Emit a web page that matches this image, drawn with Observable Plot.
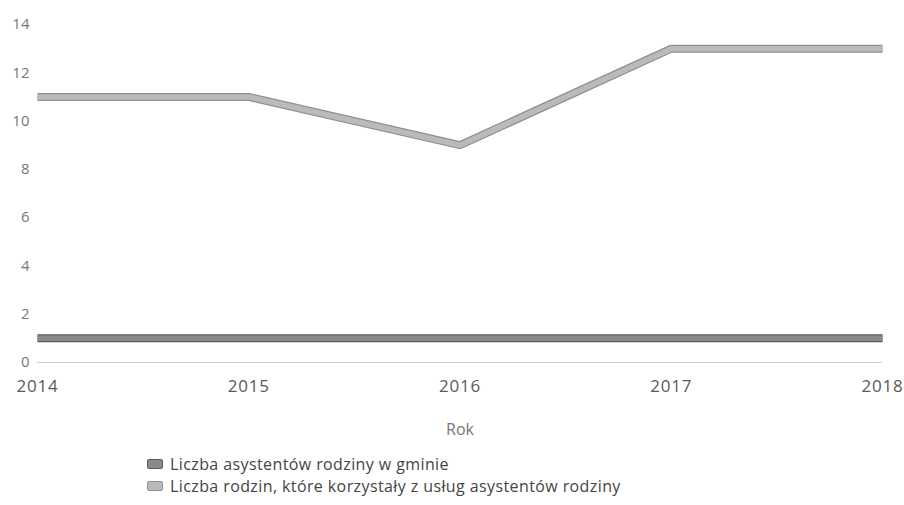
<!DOCTYPE html>
<html>
<head>
<meta charset="utf-8">
<script src="https://cdn.jsdelivr.net/npm/d3@7"></script>
<script src="https://cdn.jsdelivr.net/npm/@observablehq/plot@0.6"></script>
<style>
  body { margin: 0; background: #fff; font-family: "Open Sans", sans-serif; }
  #legend { margin-left: 147px; margin-top: 8px; font-family: "Open Sans", sans-serif; font-size: 16px; letter-spacing: 0.4px; color: #444; line-height: 22px; }
  .item { display: flex; align-items: center; }
  .sw { width: 14px; height: 8px; border-radius: 2px; margin-right: 7px; }
</style>
</head>
<body>
<div id="chart"></div>
<div id="legend"></div>
<script>
const years = [2014, 2015, 2016, 2017, 2018];
const seriesNames = [
  "Liczba asystentów rodziny w gminie",
  "Liczba rodzin, które korzystały z usług asystentów rodziny"
];
const asystenci = [1, 1, 1, 1, 1];
const rodziny = [11, 11, 9, 13, 13];
const yTicks = [0, 2, 4, 6, 8, 10, 12, 14];
const fills = ["#8a8a8a", "#bababa"];
const outlines = ["#5a5a5a", "#909090"];

const data = [];
years.forEach((y, i) => {
  data.push({year: y, value: asystenci[i], series: seriesNames[0]});
  data.push({year: y, value: rodziny[i], series: seriesNames[1]});
});

const chart = Plot.plot({
  width: 904,
  height: 445,
  marginLeft: 37,
  marginRight: 22,
  marginTop: 24,
  marginBottom: 83,
  style: {fontFamily: "Open Sans, sans-serif", background: "#fff"},
  x: {domain: [2014, 2018]},
  y: {domain: [0, 14]},
  color: {domain: seriesNames, range: fills},
  marks: [
    Plot.ruleY([0], {stroke: "#cfcfcf", strokeWidth: 1}),
    Plot.axisY({ticks: yTicks, tickSize: 0, tickPadding: 8, fontSize: 15, color: "#777", label: null}),
    Plot.axisX({ticks: years, tickFormat: d => String(d), tickSize: 0, tickPadding: 17, fontSize: 17, color: "#5a5a5a",
      label: "Rok", labelAnchor: "center", labelArrow: "none", labelOffset: 72}),
    Plot.line(data, {x: "year", y: "value", z: "series", stroke: d => outlines[seriesNames.indexOf(d.series)], strokeWidth: 8, strokeLinecap: "butt", strokeLinejoin: "round"}),
    Plot.line(data, {x: "year", y: "value", z: "series", stroke: "series", strokeWidth: 5.5, strokeLinecap: "butt", strokeLinejoin: "round"})
  ]
});
document.getElementById("chart").appendChild(chart);
chart.querySelectorAll("text").forEach(t => {
  if (t.textContent === "Rok") { t.setAttribute("font-size", "16"); t.setAttribute("fill", "#777"); }
  if (/^20\d\d$/.test(t.textContent)) { t.setAttribute("letter-spacing", "0.8"); }
});

const legend = document.getElementById("legend");
seriesNames.forEach((name, i) => {
  const item = document.createElement("div");
  item.className = "item";
  const sw = document.createElement("span");
  sw.className = "sw";
  sw.style.background = fills[i];
  sw.style.border = "1.5px solid " + outlines[i];
  item.appendChild(sw);
  const tx = document.createElement("span");
  tx.textContent = name;
  item.appendChild(tx);
  legend.appendChild(item);
});
</script>
</body>
</html>
